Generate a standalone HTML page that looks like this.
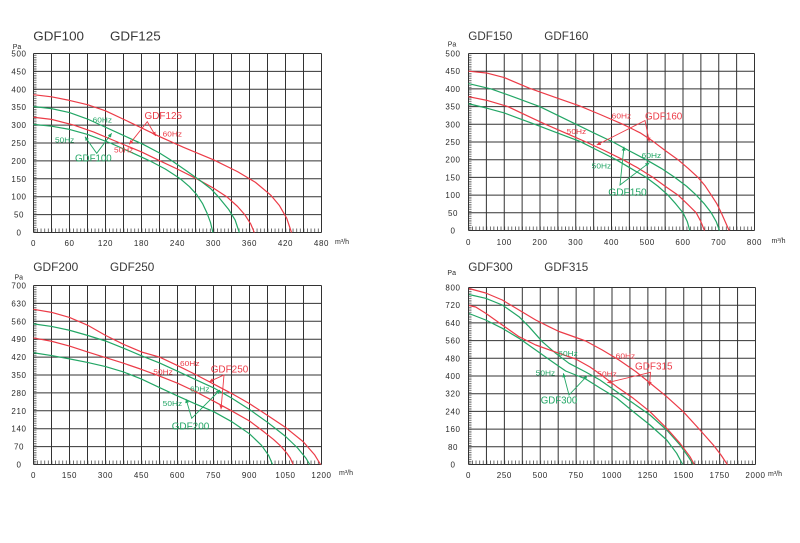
<!DOCTYPE html>
<html><head><meta charset="utf-8"><style>
html,body{margin:0;padding:0;background:#fff;}
svg{display:block;font-family:"Liberation Sans",Arial,sans-serif;}
.g{stroke:#333;stroke-width:1;fill:none;}
.ax{font-size:8px;fill:#2a2a2a;letter-spacing:0.6px;}
.tt{fill:#383838;}
.pa{font-size:7px;fill:#2a2a2a;}
.un{font-size:7px;fill:#2a2a2a;}
.cr{fill:none;stroke:#ec3b47;stroke-width:1.2;stroke-linejoin:round;vector-effect:non-scaling-stroke;}
.cg{fill:none;stroke:#22a665;stroke-width:1.2;stroke-linejoin:round;vector-effect:non-scaling-stroke;}
.ar{fill:none;stroke:#ec3b47;stroke-width:0.9;marker-start:url(#mr);marker-end:url(#mr);}
.ag{fill:none;stroke:#22a665;stroke-width:0.9;marker-start:url(#mg);marker-end:url(#mg);}
.tr{fill:#ec3b47;}
.tg{fill:#22a665;}
.hz{font-size:7.5px;}
.lb{font-size:10.5px;}
</style></head><body>
<svg width="800" height="543" viewBox="0 0 800 543" xmlns="http://www.w3.org/2000/svg">
<defs>
<marker id="mr" viewBox="0 0 6 6" refX="6" refY="3" markerWidth="4" markerHeight="4" orient="auto-start-reverse" markerUnits="userSpaceOnUse"><path d="M0 0L6 3L0 6z" fill="#ec3b47"/></marker>
<marker id="mg" viewBox="0 0 6 6" refX="6" refY="3" markerWidth="4" markerHeight="4" orient="auto-start-reverse" markerUnits="userSpaceOnUse"><path d="M0 0L6 3L0 6z" fill="#22a665"/></marker>
<pattern id="l1" patternUnits="userSpaceOnUse" x="33.5" y="53.5" width="4" height="1.79"><rect x="0" y="0" width="3" height="0.6" fill="#333"/></pattern>
<pattern id="b1" patternUnits="userSpaceOnUse" x="33.5" y="0" width="3.6" height="10"><rect x="0" y="0" width="0.7" height="10" fill="#333"/></pattern>
<pattern id="l2" patternUnits="userSpaceOnUse" x="468.5" y="53.5" width="4" height="1.77"><rect x="0" y="0" width="3" height="0.6" fill="#333"/></pattern>
<pattern id="b2" patternUnits="userSpaceOnUse" x="468.5" y="0" width="3.575" height="10"><rect x="0" y="0" width="0.7" height="10" fill="#333"/></pattern>
<pattern id="l3" patternUnits="userSpaceOnUse" x="33.5" y="285.5" width="4" height="1.79"><rect x="0" y="0" width="3" height="0.6" fill="#333"/></pattern>
<pattern id="l4" patternUnits="userSpaceOnUse" x="468.5" y="287.5" width="4" height="1.77"><rect x="0" y="0" width="3" height="0.6" fill="#333"/></pattern>
<pattern id="b4" patternUnits="userSpaceOnUse" x="468.5" y="0" width="3.5875" height="10"><rect x="0" y="0" width="0.7" height="10" fill="#333"/></pattern>
</defs>
<rect width="800" height="543" fill="#fff"/>

<!-- ============ CHART 1 ============ -->
<text class="tt" x="33.3" y="40.7" font-size="12.5" textLength="50.7" lengthAdjust="spacingAndGlyphs">GDF100</text>
<text class="tt" x="110" y="40.7" font-size="12.5" textLength="50.7" lengthAdjust="spacingAndGlyphs">GDF125</text>
<text class="pa" x="17" y="49" text-anchor="middle">Pa</text>
<rect x="33.5" y="53.5" width="3" height="179" fill="url(#l1)"/>
<rect x="33.5" y="228.5" width="288" height="4" fill="url(#b1)"/>
<path class="g" d="M33.5 53.5V232.5M51.5 53.5V232.5M69.5 53.5V232.5M87.5 53.5V232.5M105.5 53.5V232.5M123.5 53.5V232.5M141.5 53.5V232.5M159.5 53.5V232.5M177.5 53.5V232.5M195.5 53.5V232.5M213.5 53.5V232.5M231.5 53.5V232.5M249.5 53.5V232.5M267.5 53.5V232.5M285.5 53.5V232.5M303.5 53.5V232.5M321.5 53.5V232.5
M33.5 53.5H321.5M33.5 71.4H321.5M33.5 89.3H321.5M33.5 107.2H321.5M33.5 125.1H321.5M33.5 143H321.5M33.5 160.9H321.5M33.5 178.8H321.5M33.5 196.7H321.5M33.5 214.6H321.5M33.5 232.5H321.5"/>
<g class="ax" text-anchor="middle">
<text x="19" y="235.5">0</text><text x="19" y="217.6">50</text><text x="19" y="199.7">100</text><text x="19" y="181.8">150</text><text x="19" y="163.9">200</text><text x="19" y="146">250</text><text x="19" y="128.1">300</text><text x="19" y="110.2">350</text><text x="19" y="92.3">400</text><text x="19" y="74.4">450</text><text x="19" y="56.5">500</text>
<text x="33.5" y="246">0</text><text x="69.5" y="246">60</text><text x="105.5" y="246">120</text><text x="141.5" y="246">180</text><text x="177.5" y="246">240</text><text x="213.5" y="246">300</text><text x="249.5" y="246">360</text><text x="285.5" y="246">420</text><text x="321.5" y="246">480</text>
</g>
<text class="un" x="335" y="244">m³/h</text>
<g transform="translate(33.5 232.5) scale(0.6 -0.358)">
<polyline class="cr" points="0,385 30,379 60,369 90,357 120,340 158,310 210,268 250,238 300,203 340,170 370,140 395,105 410,75 422,40 430,0"/>
<polyline class="cr" points="0,322 30,316 67,300 100,281 144,250 180,225 211,200 240,177 272,150 300,124 322,100 340,73 352,50 362,24 368,0"/>
<polyline class="cg" points="0,352 30,346 60,335 90,317 120,294 150,271 183,246 210,222 230,201 255,172 277,146 295,123 308,100 325,65 336,35 343,0"/>
<polyline class="cg" points="0,302 30,297 60,288 90,274 128,250 160,226 194,200 220,177 244,151 260,128 272,106 282,80 289,55 295,28 299,0"/>
</g>
<polyline class="ar" points="129.3,144.3 147.3,121.7 155.7,136"/>
<polyline class="ag" points="85,136.7 96.7,153.3 111.7,133.3"/>
<text class="tr lb" x="144.5" y="119.2" textLength="37.5" lengthAdjust="spacingAndGlyphs">GDF125</text>
<text class="tr hz" x="162.7" y="136.7" textLength="19.3" lengthAdjust="spacingAndGlyphs">60Hz</text>
<text class="tr hz" x="114" y="152.3" textLength="19.3" lengthAdjust="spacingAndGlyphs">50Hz</text>
<text class="tg hz" x="92.7" y="122.7" textLength="19.3" lengthAdjust="spacingAndGlyphs">60Hz</text>
<text class="tg hz" x="55" y="142.3" textLength="19.3" lengthAdjust="spacingAndGlyphs">50Hz</text>
<text class="tg lb" x="75" y="161.7" textLength="36.7" lengthAdjust="spacingAndGlyphs">GDF100</text>

<!-- ============ CHART 2 ============ -->
<text class="tt" x="468.3" y="40" font-size="11.5" textLength="44" lengthAdjust="spacingAndGlyphs">GDF150</text>
<text class="tt" x="544.3" y="40" font-size="11.5" textLength="44" lengthAdjust="spacingAndGlyphs">GDF160</text>
<text class="pa" x="452" y="46.7" text-anchor="middle">Pa</text>
<rect x="468.5" y="53.5" width="3" height="177" fill="url(#l2)"/>
<rect x="468.5" y="226.5" width="286" height="4" fill="url(#b2)"/>
<path class="g" d="M468.5 53.5V230.5M486.375 53.5V230.5M504.25 53.5V230.5M522.125 53.5V230.5M540 53.5V230.5M557.875 53.5V230.5M575.75 53.5V230.5M593.625 53.5V230.5M611.5 53.5V230.5M629.375 53.5V230.5M647.25 53.5V230.5M665.125 53.5V230.5M683 53.5V230.5M700.875 53.5V230.5M718.75 53.5V230.5M736.625 53.5V230.5M754.5 53.5V230.5
M468.5 53.5H754.5M468.5 71.2H754.5M468.5 88.9H754.5M468.5 106.6H754.5M468.5 124.3H754.5M468.5 142H754.5M468.5 159.7H754.5M468.5 177.4H754.5M468.5 195.1H754.5M468.5 212.8H754.5M468.5 230.5H754.5"/>
<g class="ax" text-anchor="middle">
<text x="453" y="233.5">0</text><text x="453" y="215.8">50</text><text x="453" y="198.1">100</text><text x="453" y="180.4">150</text><text x="453" y="162.7">200</text><text x="453" y="145">250</text><text x="453" y="127.3">300</text><text x="453" y="109.6">350</text><text x="453" y="91.9">400</text><text x="453" y="74.2">450</text><text x="453" y="56.5">500</text>
<text x="468.5" y="245">0</text><text x="504.25" y="245">100</text><text x="540" y="245">200</text><text x="575.75" y="245">300</text><text x="611.5" y="245">400</text><text x="647.25" y="245">500</text><text x="683" y="245">600</text><text x="718.75" y="245">700</text><text x="754.5" y="245">800</text>
</g>
<text class="un" x="771.5" y="243">m³/h</text>
<g transform="translate(468.5 230.5) scale(0.3575 -0.354)">
<polyline class="cr" points="0,450 50,445 100,432 170,402 240,377 311,352 370,327 432,300 480,276 516,252 550,226 586,200 615,175 642,150 662,126 679,100 695,75 707,50 718,25 729,0"/>
<polyline class="cr" points="0,378 50,368 110,350 160,326 213,301 270,276 329,250 380,226 432,200 475,176 516,150 550,125 586,100 612,75 637,50 650,25 660,0"/>
<polyline class="cg" points="0,415 63,400 130,376 199,350 250,325 301,300 352,275 404,250 450,225 497,200 540,175 577,150 610,125 637,100 660,75 679,50 693,25 702,0"/>
<polyline class="cg" points="0,358 50,346 100,332 140,317 180,302 245,277 311,252 362,226 413,200 455,175 497,150 530,125 558,100 580,75 600,50 612,25 619,0"/>
</g>
<polyline class="ar" points="596.7,145 645,120.5 649.3,141.7"/>
<polyline class="ag" points="624,146.7 620,185 649.3,162.7"/>
<text class="tr lb" x="645" y="119.3" textLength="37.3" lengthAdjust="spacingAndGlyphs">GDF160</text>
<text class="tr hz" x="611.7" y="118.3" textLength="19.5" lengthAdjust="spacingAndGlyphs">60Hz</text>
<text class="tr hz" x="566.7" y="134" textLength="19.5" lengthAdjust="spacingAndGlyphs">50Hz</text>
<text class="tg hz" x="641.7" y="158" textLength="19.5" lengthAdjust="spacingAndGlyphs">60Hz</text>
<text class="tg hz" x="591.7" y="168.3" textLength="19.5" lengthAdjust="spacingAndGlyphs">50Hz</text>
<text class="tg lb" x="608.3" y="195.7" textLength="38.4" lengthAdjust="spacingAndGlyphs">GDF150</text>

<!-- ============ CHART 3 ============ -->
<text class="tt" x="33.3" y="271" font-size="11.6" textLength="45" lengthAdjust="spacingAndGlyphs">GDF200</text>
<text class="tt" x="110" y="271" font-size="11.6" textLength="44.3" lengthAdjust="spacingAndGlyphs">GDF250</text>
<text class="pa" x="18.8" y="279.7" text-anchor="middle">Pa</text>
<rect x="33.5" y="285.5" width="3" height="179" fill="url(#l3)"/>
<rect x="33.5" y="460.5" width="288" height="4" fill="url(#b1)"/>
<path class="g" d="M33.5 285.5V464.5M51.5 285.5V464.5M69.5 285.5V464.5M87.5 285.5V464.5M105.5 285.5V464.5M123.5 285.5V464.5M141.5 285.5V464.5M159.5 285.5V464.5M177.5 285.5V464.5M195.5 285.5V464.5M213.5 285.5V464.5M231.5 285.5V464.5M249.5 285.5V464.5M267.5 285.5V464.5M285.5 285.5V464.5M303.5 285.5V464.5M321.5 285.5V464.5
M33.5 285.5H321.5M33.5 303.4H321.5M33.5 321.3H321.5M33.5 339.2H321.5M33.5 357.1H321.5M33.5 375H321.5M33.5 392.9H321.5M33.5 410.8H321.5M33.5 428.7H321.5M33.5 446.6H321.5M33.5 464.5H321.5"/>
<g class="ax" text-anchor="middle">
<text x="19" y="467.5">0</text><text x="19" y="449.6">70</text><text x="19" y="431.7">140</text><text x="19" y="413.8">210</text><text x="19" y="395.9">280</text><text x="19" y="378">350</text><text x="19" y="360.1">420</text><text x="19" y="342.2">490</text><text x="19" y="324.3">560</text><text x="19" y="306.4">630</text><text x="19" y="288.5">700</text>
<text x="33.5" y="478">0</text><text x="69.5" y="478">150</text><text x="105.5" y="478">300</text><text x="141.5" y="478">450</text><text x="177.5" y="478">600</text><text x="213.5" y="478">750</text><text x="249.5" y="478">900</text><text x="285.5" y="478">1050</text><text x="321.5" y="478">1200</text>
</g>
<text class="un" x="339" y="475">m³/h</text>
<g transform="translate(33.5 464.5) scale(0.24 -0.25571)">
<polyline class="cr" points="0,607 75,595 150,575 225,545 300,505 375,470 450,440 525,420 600,387 675,352 750,315 825,278 900,238 975,192 1050,145 1124,89 1172,37 1196,0"/>
<polyline class="cr" points="0,495 75,482 150,463 225,440 300,418 375,396 450,372 525,346 600,318 675,285 750,248 825,210 900,170 957,130 1000,98 1030,72 1055,45 1070,25 1082,0"/>
<polyline class="cg" points="0,550 75,540 150,525 225,505 300,483 375,455 450,425 525,397 600,365 675,332 750,300 825,260 900,215 975,165 1050,110 1100,65 1135,25 1151,0"/>
<polyline class="cg" points="0,437 75,426 150,413 225,399 300,383 375,362 450,334 525,301 600,268 675,237 750,207 825,168 900,120 950,75 980,35 996,0"/>
</g>
<polyline class="ar" points="209.3,381.7 224,375 221,409.3"/>
<polyline class="ag" points="186,399 191.7,418.3 220,390"/>
<text class="tr lb" x="210.7" y="372.7" textLength="37.6" lengthAdjust="spacingAndGlyphs">GDF250</text>
<text class="tr hz" x="180" y="366" textLength="19.5" lengthAdjust="spacingAndGlyphs">60Hz</text>
<text class="tr hz" x="153.3" y="374.3" textLength="19.5" lengthAdjust="spacingAndGlyphs">50Hz</text>
<text class="tg hz" x="190" y="391.7" textLength="19.5" lengthAdjust="spacingAndGlyphs">60Hz</text>
<text class="tg hz" x="162.7" y="406" textLength="19.5" lengthAdjust="spacingAndGlyphs">50Hz</text>
<text class="tg lb" x="171.7" y="429.3" textLength="37.6" lengthAdjust="spacingAndGlyphs">GDF200</text>

<!-- ============ CHART 4 ============ -->
<text class="tt" x="468.3" y="271" font-size="11.6" textLength="44.4" lengthAdjust="spacingAndGlyphs">GDF300</text>
<text class="tt" x="544.3" y="271" font-size="11.6" textLength="44" lengthAdjust="spacingAndGlyphs">GDF315</text>
<text class="pa" x="451.7" y="275" text-anchor="middle">Pa</text>
<rect x="468.5" y="287.5" width="3" height="177" fill="url(#l4)"/>
<rect x="468.5" y="460.5" width="287" height="4" fill="url(#b4)"/>
<path class="g" d="M468.5 287.5V464.5M486.44 287.5V464.5M504.38 287.5V464.5M522.31 287.5V464.5M540.25 287.5V464.5M558.19 287.5V464.5M576.13 287.5V464.5M594.06 287.5V464.5M612 287.5V464.5M629.94 287.5V464.5M647.88 287.5V464.5M665.81 287.5V464.5M683.75 287.5V464.5M701.69 287.5V464.5M719.63 287.5V464.5M737.56 287.5V464.5M755.5 287.5V464.5
M468.5 287.5H755.5M468.5 305.2H755.5M468.5 322.9H755.5M468.5 340.6H755.5M468.5 358.3H755.5M468.5 376H755.5M468.5 393.7H755.5M468.5 411.4H755.5M468.5 429.1H755.5M468.5 446.8H755.5M468.5 464.5H755.5"/>
<g class="ax" text-anchor="middle">
<text x="453" y="467.5">0</text><text x="453" y="449.8">80</text><text x="453" y="432.1">160</text><text x="453" y="414.4">240</text><text x="453" y="396.7">320</text><text x="453" y="379">400</text><text x="453" y="361.3">480</text><text x="453" y="343.6">560</text><text x="453" y="325.9">640</text><text x="453" y="308.2">720</text><text x="453" y="290.5">800</text>
<text x="468.5" y="478">0</text><text x="504.38" y="478">250</text><text x="540.25" y="478">500</text><text x="576.13" y="478">750</text><text x="612" y="478">1000</text><text x="647.88" y="478">1250</text><text x="683.75" y="478">1500</text><text x="719.63" y="478">1750</text><text x="755.5" y="478">2000</text>
</g>
<text class="un" x="768" y="476">m³/h</text>
<polyline class="cr" points="469,288.5 485.7,293 502.3,300 519,310 535.7,320 549,326.7 559,331.5 569,335 585.7,341 602.3,350 619,360 635.7,371.5 650,383 666.7,396.7 683.3,411.7 700,430 713.3,445 721,455 727.3,464.5"/>
<polyline class="cg" points="469,294.5 485.7,298.3 502.3,305 519,316.7 529,326.7 542.3,341.7 555.7,353.3 569,363.3 585.7,372 600,380 616.7,391.7 633.3,403.3 650,415 666.7,430 680,445 688.3,456.7 693.3,464.5"/>
<polyline class="cg" points="469,313.5 485.7,320 502.3,328.3 519,338.3 535.7,350 552.3,361.7 565.7,371 585.7,379 600,388 616.7,398 633.3,411.7 650,425 666.7,440 676.7,453.3 682.7,464.5"/>
<polyline class="cr" points="469,305.5 475.7,307 485.7,313.3 502.3,325 519,336.7 535.7,345 559,353.3 575.7,359 590,367 600,374 616.7,386.7 633.3,398.3 650,411.7 666.7,428.3 680,443.3 690,456.7 694.3,464.5"/>
<polyline class="ar" points="607.3,382.7 650.5,372.3 649.5,385.7"/>
<polyline class="ag" points="563.3,373.3 569,395 587.3,375.7"/>
<text class="tr lb" x="635" y="369.3" textLength="37.5" lengthAdjust="spacingAndGlyphs">GDF315</text>
<text class="tr hz" x="615.7" y="358.3" textLength="19.5" lengthAdjust="spacingAndGlyphs">60Hz</text>
<text class="tr hz" x="597.3" y="376.7" textLength="19.5" lengthAdjust="spacingAndGlyphs">50Hz</text>
<text class="tg hz" x="558.3" y="356" textLength="19.5" lengthAdjust="spacingAndGlyphs">60Hz</text>
<text class="tg hz" x="535.7" y="375.7" textLength="19.5" lengthAdjust="spacingAndGlyphs">50Hz</text>
<text class="tg lb" x="540.7" y="403.3" textLength="36.6" lengthAdjust="spacingAndGlyphs">GDF300</text>
</svg>
</body></html>
